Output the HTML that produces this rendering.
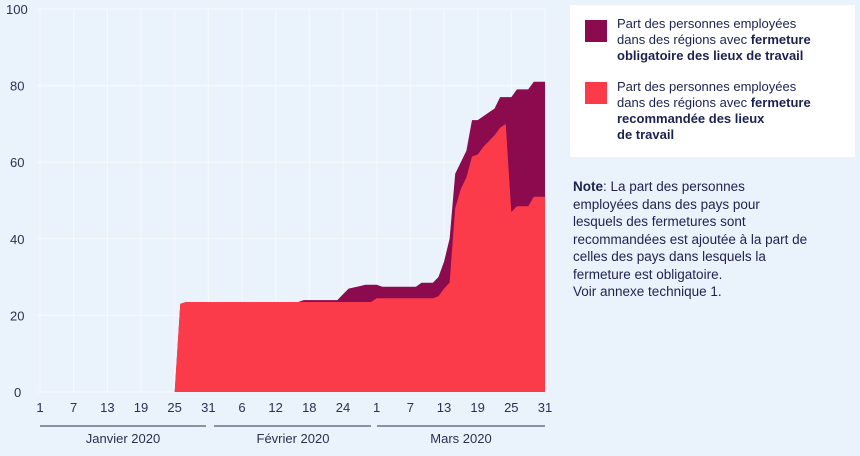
<!DOCTYPE html>
<html><head><meta charset="utf-8"><style>
body{margin:0;width:860px;height:456px;background:#eaf3fb;font-family:"Liberation Sans",sans-serif;overflow:hidden;position:relative}
.leg{position:absolute;left:570px;top:5px;width:285px;height:152px;background:#fff}
.sw{position:absolute;width:22px;height:22px}
.lt{position:absolute;left:47px;font-size:13px;line-height:16px;color:#1c2250}
.note{position:absolute;left:573px;top:178px;font-size:13.5px;line-height:17.5px;color:#1c2250;width:240px}
</style></head><body>
<svg id="s" width="860" height="456" style="position:absolute;left:0;top:0"></svg>
<div class="leg">
<div class="sw" style="left:15px;top:15px;background:#8c0a4e"></div>
<div class="lt" style="top:11px">Part des personnes employées<br>dans des régions avec <b>fermeture<br>obligatoire des lieux de travail</b></div>
<div class="sw" style="left:15px;top:77px;background:#fb3b4a"></div>
<div class="lt" style="top:74px">Part des personnes employées<br>dans des régions avec <b>fermeture<br>recommandée des lieux<br>de travail</b></div>
</div>
<div class="note"><b>Note</b>: La part des personnes employées dans des pays pour lesquels des fermetures sont recommandées est ajoutée à la part de celles des pays dans lesquels la fermeture est obligatoire.<br>Voir annexe technique 1.</div>
<script>
(function(){
var X=function(i){return 40+5.611*i}, Y=function(v){return 392-3.83*v};
function interp(pts){var a=[];for(var i=0;i<=90;i++){var k=0;while(k<pts.length-1&&pts[k+1][0]<=i)k++;var p=pts[k],q=pts[k+1]||p;var v=q[0]==p[0]?p[1]:p[1]+(q[1]-p[1])*(i-p[0])/(q[0]-p[0]);a.push(v);}return a;}
var M=function(d){return 59+d},F=function(d){return 30+d};
var dark=interp([[0,0],[24,0],[25,23],[26,23.5],[F(16),23.5],[F(17),24],[F(23),24],[F(25),27],[F(26),27.3],[F(28),28],[M(1),28],[M(2),27.5],[M(8),27.5],[M(9),28.5],[M(11),28.5],[M(12),30],[M(13),34],[M(14),40],[M(15),57],[M(16),60],[M(17),63],[M(18),71],[M(19),71],[M(20),72],[M(22),74],[M(23),77],[M(25),77],[M(26),79],[M(28),79],[M(29),81],[M(31),81]]);
var red=interp([[0,0],[24,0],[25,23],[26,23.5],[F(29),23.5],[M(1),24.5],[M(11),24.5],[M(12),25],[M(13),27],[M(14),28.5],[M(14.5),28.5],[M(15),48],[M(16),53],[M(17),56],[M(18),61.5],[M(19),62],[M(20),64],[M(22),67],[M(23),69],[M(24),70],[M(24.3),70],[M(25),47],[M(26),48.5],[M(28),48.5],[M(29),51],[M(31),51]]);
function path(a){var s="M"+X(0)+","+Y(0);a.forEach(function(v,i){s+=" L"+X(i).toFixed(1)+","+Y(v).toFixed(1)});return s+" L"+X(90)+","+Y(0)+"Z";}
var h="";
[0,20,40,60,80,100].forEach(function(v){h+='<line x1="37" x2="546" y1="'+Y(v)+'" y2="'+Y(v)+'" stroke="#f6fafe" stroke-width="1"/><text x="'+(v==100?6:v==0?14:10)+'" y="'+(Y(v)+5)+'" font-size="13" fill="#2a3050">'+v+'</text>';});
var ticks=[[0,"1"],[6,"7"],[12,"13"],[18,"19"],[24,"25"],[30,"31"],[F(6),"6"],[F(12),"12"],[F(18),"18"],[F(24),"24"],[M(1),"1"],[M(7),"7"],[M(13),"13"],[M(19),"19"],[M(25),"25"],[M(31),"31"]];
ticks.forEach(function(t){h+='<line x1="'+X(t[0])+'" x2="'+X(t[0])+'" y1="9" y2="392" stroke="#f6fafe"/><text x="'+X(t[0])+'" y="412" font-size="13" text-anchor="middle" fill="#2a3050">'+t[1]+'</text>';});
h+='<path d="'+path(dark)+'" fill="#8c0a4e"/><path d="'+path(red)+'" fill="#fb3b4a"/>';
h+='<line x1="40" x2="206" y1="426" y2="426" stroke="#2a3050"/><line x1="214" x2="371" y1="426" y2="426" stroke="#2a3050"/><line x1="377" x2="545" y1="426" y2="426" stroke="#2a3050"/>';
h+='<text x="123" y="443" font-size="13" text-anchor="middle" fill="#2a3050">Janvier 2020</text><text x="293" y="443" font-size="13" text-anchor="middle" fill="#2a3050">Février 2020</text><text x="461" y="443" font-size="13" text-anchor="middle" fill="#2a3050">Mars 2020</text>';
document.getElementById("s").innerHTML=h;
})();
</script>
</body></html>
